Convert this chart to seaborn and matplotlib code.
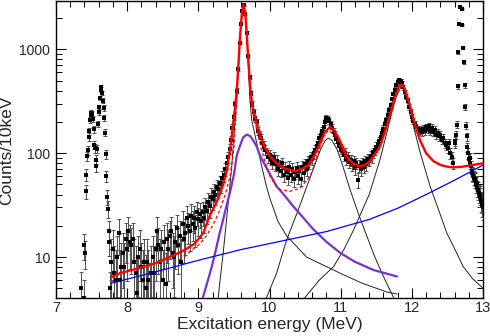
"""
Excitation energy spectrum with fitted resonance components (log scale)
"""

import numpy as np
import matplotlib
matplotlib.use('Agg')
import matplotlib.pyplot as plt
import seaborn as sns
from matplotlib.ticker import MultipleLocator, LogLocator, NullFormatter

# ---- measured spectrum (counts per 10 keV bin) ----
# low-energy peaks, 10 keV bins starting at 7.36 MeV
low_start, low_step = 7.36, 0.01
low_counts = [5, 1, 2, 4, 13, 11, 43, 62, 93, 107,
              143, 162, 210, 235, 244, 240, 215, 171, 121, 112,
              86, 75, 110, 192, 250, 276, 341, 410, 430, 380,
              320, 272, 218, 158, 98, 60, 38, 29, 18, 14,
              5, 9]

# main region, every second bin from 7.78 MeV
main_start, main_step = 7.78, 0.02
main_counts = [9, 12, 7, 6, 10, 17, 6, 8, 11, 8,
               15, 12, 18, 14, 13, 15, 9, 7, 4.5, 10,
               12, 8, 6, 9, 5, 9, 6, 3.5, 7, 10,
               7, 12, 18, 13, 9, 12, 6, 14, 5.5, 15,
               12, 16, 18, 11, 10, 14, 19, 13, 16, 9,
               21, 15, 17, 24, 20, 18, 25, 21, 24, 19,
               27, 23, 26, 22, 27, 24, 30, 28, 34, 31,
               38, 36, 42, 40, 47, 45, 52, 50, 58, 62,
               70, 80, 92, 110, 135, 175, 225, 300, 400, 640,
               1150, 1750, 2350, 2650, 2200, 1450, 860, 540, 380, 300,
               250, 215, 200, 165, 150, 140, 125, 118, 108, 102,
               92, 96, 88, 80, 92, 78, 85, 70, 76, 68,
               80, 62, 72, 66, 58, 74, 62, 70, 56, 66,
               72, 60, 68, 57, 74, 64, 78, 70, 84, 80,
               92, 88, 100, 108, 118, 125, 140, 150, 165, 180,
               200, 220, 215, 205, 190, 175, 160, 150, 138, 128,
               118, 110, 105, 96, 100, 88, 92, 82, 86, 78,
               84, 72, 80, 55, 76, 70, 80, 74, 84, 78,
               88, 85, 95, 92, 102, 108, 115, 122, 130, 142,
               158, 172, 190, 210, 235, 262, 290, 330, 370, 410,
               450, 490, 510, 495, 470, 430, 390, 350, 320, 280,
               250, 225, 205, 190, 178, 170, 165, 168, 160, 172,
               165, 178, 170, 182, 165, 175, 160, 168, 150, 158,
               145, 150, 135, 140, 125, 120, 112, 125, 100, 92,
               80, 130]

# narrow peak near 13 MeV, 10 keV bins from 12.61 MeV
high_start, high_step = 12.61, 0.01
high_counts = [125, 150, 188, 440, 935, 1750, 2550, 4000, 3800, 2450,
               1730, 1030, 750, 450, 280, 184, 145, 114, 100, 88,
               90, 80, 75, 68, 64, 62, 58, 55, 57, 50,
               52, 46, 44, 41, 38, 40, 35, 32, 34, 30]

# extra variance from background subtraction (main + high region)
BKG_VAR = 25

# ---- fit curves ----
red_e = [7.78, 7.90, 8.10, 8.39, 8.60, 8.81, 8.95, 9.07, 9.16, 9.25,
         9.30, 9.35, 9.40, 9.445, 9.48, 9.515, 9.54, 9.56, 9.585, 9.61,
         9.635, 9.66, 9.68, 9.70, 9.726, 9.75, 9.77, 9.82, 9.866, 9.93,
         10.007, 10.10, 10.19, 10.36, 10.45, 10.545, 10.63, 10.71, 10.78, 10.85,
         10.91, 10.97, 11.03, 11.085, 11.17, 11.25, 11.32, 11.39, 11.47, 11.55,
         11.62, 11.69, 11.76, 11.82, 11.857, 11.90, 11.95, 11.99, 12.04, 12.11,
         12.20, 12.30, 12.40, 12.50, 12.58, 12.70, 12.80, 12.90, 13.00]
red_y = [6.4, 7.0, 7.6, 8.7, 10.0, 11.7, 13.5, 17, 25, 33,
         40, 50, 67, 105, 170, 270, 400, 650, 1300, 2150,
         2700, 2250, 1450, 850, 460, 320, 262, 190, 150, 115,
         93, 80, 72, 67, 70, 77, 95, 125, 160, 180,
         165, 140, 113, 93, 80, 75, 76, 81, 95, 116,
         160, 230, 340, 445, 456, 420, 320, 260, 190, 135,
         100, 84, 77, 74, 73, 74, 76, 78, 80]

dash_e = [8.80, 8.90, 9.00, 9.10, 9.20, 9.30, 9.38, 9.45, 9.50, 9.53,
          9.56, 9.585, 9.61, 9.635, 9.66, 9.68, 9.70, 9.726, 9.75, 9.77,
          9.82, 9.866, 9.93, 10.007, 10.08, 10.15, 10.29, 10.43, 10.57, 10.64,
          10.71, 10.77, 10.83, 10.92, 10.99, 11.06, 11.18, 11.28]
dash_y = [10, 11.5, 13, 15.5, 20, 28, 40, 62, 110, 250,
          600, 1250, 2050, 2650, 2150, 1400, 800, 440, 300, 244,
          170, 125, 85, 60, 50, 44.5, 43, 46, 60, 80,
          116, 150, 168, 145, 116, 93, 72, 70]

blue_e = [7.78, 8.4, 9.0, 9.6, 10.2, 10.8, 11.4, 11.8, 12.2, 12.6, 13.0]
blue_y = [5.6, 7.2, 9.3, 11.8, 14.4, 17.6, 23.0, 29.5, 40, 55, 77]

purple_e = [9.04, 9.07, 9.13, 9.19, 9.25, 9.30, 9.35, 9.40, 9.445, 9.50,
            9.54, 9.585, 9.63, 9.68, 9.73, 9.78, 9.82, 9.866, 9.94, 10.01,
            10.10, 10.20, 10.33, 10.45, 10.615, 10.80, 10.99, 11.20, 11.46, 11.79]
purple_y = [3.6, 4.2, 5.8, 8.1, 12, 17, 23, 32, 42, 62,
            95, 118, 142, 151, 146, 130, 116, 95, 76, 62,
            48, 40, 31, 25, 18.5, 14, 11, 9.0, 7.5, 6.5]

bw1_e = [9.27, 9.30, 9.35, 9.42, 9.47, 9.515, 9.54, 9.56, 9.585, 9.61,
         9.635, 9.66, 9.68, 9.70, 9.726, 9.75, 9.796, 9.89, 9.96, 10.01,
         10.12, 10.24, 10.52, 10.99, 11.30, 11.65, 11.79]
bw1_y = [3.5, 5.5, 11, 33, 75, 200, 330, 600, 1250, 2000,
         2550, 2050, 1350, 750, 320, 210, 150, 75, 47, 36,
         22, 16, 10, 7, 5.6, 4.6, 4.4]

bw2_e = [9.90, 9.96, 10.10, 10.24, 10.40, 10.52, 10.62, 10.72, 10.78, 10.826,
         10.88, 10.95, 11.03, 11.13, 11.25, 11.365, 11.48, 11.60, 11.74, 11.80]
bw2_y = [3.3, 4.1, 7.0, 14.6, 28, 47, 72, 110, 132, 140,
         132, 108, 75, 45, 26, 16, 10, 6.5, 4.1, 3.4]

bw3_e = [10.44, 10.50, 10.70, 10.90, 11.05, 11.18, 11.30, 11.40, 11.55, 11.65,
         11.72, 11.78, 11.85, 11.92, 11.97, 12.02, 12.11, 12.255, 12.395, 12.49,
         12.60, 12.72, 12.85, 13.00]
bw3_y = [3.5, 4.1, 6.0, 8.1, 12, 18.2, 28, 40, 86, 160,
         250, 350, 440, 380, 300, 185, 105, 48, 26, 17,
         12, 8.1, 6.2, 5.0]


def make_bins(start, step, counts):
    return start + step * np.arange(len(counts)), np.asarray(counts, dtype=float)


sns.set_theme(style='ticks')
plt.rcParams['font.family'] = ['Liberation Sans', 'DejaVu Sans']

fig = plt.figure(figsize=(4.9, 3.36), dpi=100)
ax = fig.add_axes([0.114, 0.112, 0.872, 0.884])
ax.set_yscale('log')

# data points with error bars
e_low, c_low = make_bins(low_start, low_step, low_counts)
e_main, c_main = make_bins(main_start, main_step, main_counts)
e_high, c_high = make_bins(high_start, high_step, high_counts)

segments = [(e_low, c_low, np.sqrt(c_low)),
            (e_main, c_main, np.sqrt(c_main + BKG_VAR)),
            (e_high, c_high, np.sqrt(c_high + BKG_VAR))]
for e, c, err in segments:
    ax.errorbar(e, c, yerr=err, fmt='none', ecolor='#505050', elinewidth=0.7,
                capsize=1.2, capthick=0.7, zorder=2)

all_e = np.concatenate([s[0] for s in segments])
all_c = np.concatenate([s[1] for s in segments])
sns.scatterplot(x=all_e, y=all_c, ax=ax, marker='s', s=7, color='black',
                linewidth=0, zorder=3)

# fit components
for xs, ys in [(bw1_e, bw1_y), (bw2_e, bw2_y), (bw3_e, bw3_y)]:
    sns.lineplot(x=xs, y=ys, ax=ax, color='#222222', linewidth=0.7,
                 estimator=None, sort=False, zorder=4)
sns.lineplot(x=purple_e, y=purple_y, ax=ax, color='#7a2fd0', linewidth=1.6,
             estimator=None, sort=False, zorder=4)
sns.lineplot(x=blue_e, y=blue_y, ax=ax, color='#0000ff', linewidth=0.9,
             estimator=None, sort=False, zorder=4)
sns.lineplot(x=dash_e, y=dash_y, ax=ax, color='#ff0000', linewidth=0.9,
             linestyle=(0, (2.5, 2)), estimator=None, sort=False, zorder=5)
sns.lineplot(x=red_e, y=red_y, ax=ax, color='#ff0000', linewidth=1.7,
             estimator=None, sort=False, zorder=6)

# axes
ax.set_xlim(7, 13)
ax.set_ylim(4, 2900)
ax.xaxis.set_major_locator(MultipleLocator(1))
ax.xaxis.set_minor_locator(MultipleLocator(0.2))
ax.set_yticks([10, 100, 1000])
ax.set_yticklabels(['10', '100', '1000'])
ax.yaxis.set_minor_locator(LogLocator(base=10, subs=np.arange(2, 10), numticks=20))
ax.yaxis.set_minor_formatter(NullFormatter())

ax.tick_params(which='both', direction='in', top=True, right=True, color='black')
ax.tick_params(which='major', length=7, width=0.8)
ax.tick_params(which='minor', length=4, width=0.7)
ax.tick_params(axis='x', labelsize=10.5, pad=2)
ax.tick_params(axis='y', labelsize=10, pad=4)
for sp in ax.spines.values():
    sp.set_color('black')
    sp.set_linewidth(1.0)

ax.set_xlabel('Excitation energy (MeV)', fontsize=12.5, labelpad=1)
ax.set_ylabel('Counts/10keV', fontsize=12.5, labelpad=4)
ax.grid(False)

fig.savefig('out.png', dpi=100)
plt.close(fig)
